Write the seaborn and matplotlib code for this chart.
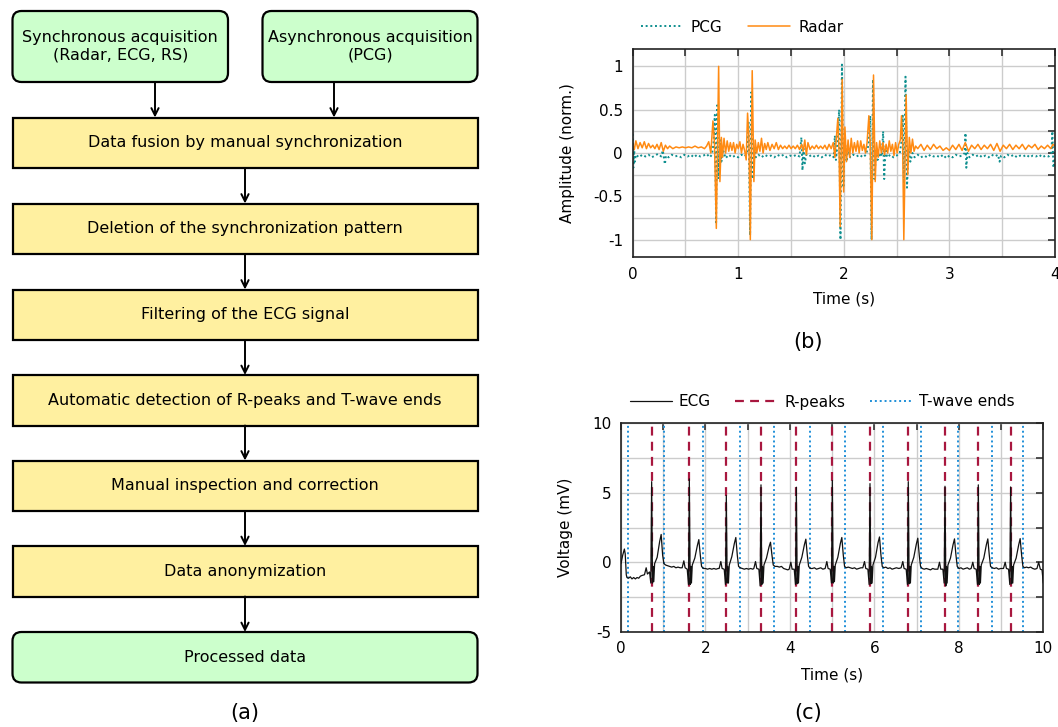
import numpy as np
import pandas as pd
import matplotlib
matplotlib.use("Agg")
import matplotlib.pyplot as plt
import seaborn as sns
from matplotlib.patches import FancyBboxPatch, Rectangle
from matplotlib.lines import Line2D
from matplotlib.ticker import MultipleLocator

# ---------------- data ----------------
top_boxes = ["Synchronous acquisition\n(Radar, ECG, RS)", "Asynchronous acquisition\n(PCG)"]
step_boxes = [
    "Data fusion by manual synchronization",
    "Deletion of the synchronization pattern",
    "Filtering of the ECG signal",
    "Automatic detection of R-peaks and T-wave ends",
    "Manual inspection and correction",
    "Data anonymization",
]
final_box = "Processed data"

radar_t = [0.00, 0.015, 0.03, 0.05, 0.07, 0.09, 0.11, 0.13, 0.15, 0.17, 0.19, 0.21, 0.23, 0.25, 0.27, 0.29,
           0.31, 0.33, 0.35, 0.38, 0.41, 0.44, 0.47, 0.50, 0.53, 0.56, 0.59, 0.62, 0.65, 0.68, 0.70, 0.72,
           0.74, 0.76, 0.775, 0.792, 0.814, 0.826, 0.84, 0.85, 0.865, 0.88, 0.895, 0.91, 0.925, 0.94, 0.955,
           0.97, 0.985, 1.00, 1.015, 1.03, 1.045, 1.06, 1.075, 1.088, 1.10, 1.114, 1.132, 1.148, 1.16, 1.175,
           1.19, 1.205, 1.22, 1.235, 1.25, 1.265, 1.28, 1.30, 1.32, 1.34, 1.36, 1.38, 1.40, 1.42, 1.44, 1.46,
           1.48, 1.50, 1.52, 1.54, 1.56, 1.58, 1.60, 1.615, 1.63, 1.645, 1.66, 1.68, 1.70, 1.72, 1.74, 1.76,
           1.78, 1.80, 1.82, 1.84, 1.86, 1.88, 1.90, 1.915, 1.93, 1.943, 1.955, 1.965, 1.984, 1.998, 2.01,
           2.025, 2.04, 2.055, 2.07, 2.085, 2.10, 2.115, 2.13, 2.145, 2.16, 2.175, 2.19, 2.205, 2.22, 2.237,
           2.25, 2.265, 2.281, 2.297, 2.31, 2.325, 2.34, 2.355, 2.37, 2.385, 2.40, 2.415, 2.43, 2.445, 2.46,
           2.475, 2.49, 2.505, 2.52, 2.535, 2.546, 2.557, 2.568, 2.59, 2.605, 2.62, 2.635, 2.65, 2.665, 2.68,
           2.70, 2.73, 2.76, 2.79, 2.82, 2.85, 2.88, 2.91, 2.94, 2.97, 3.00, 3.03, 3.06, 3.09, 3.12, 3.15,
           3.18, 3.21, 3.24, 3.27, 3.30, 3.33, 3.36, 3.39, 3.42, 3.45, 3.48, 3.51, 3.54, 3.57, 3.60, 3.63,
           3.66, 3.69, 3.72, 3.75, 3.78, 3.81, 3.84, 3.87, 3.90, 3.93, 3.96, 3.98, 4.00]
radar_v = [0.10, 0.04, 0.14, 0.05, 0.12, 0.06, 0.13, 0.05, 0.11, 0.06, 0.09, 0.05, 0.10, 0.04, 0.12, 0.02,
           0.09, 0.05, 0.08, 0.05, 0.07, 0.06, 0.07, 0.06, 0.07, 0.06, 0.08, 0.06, 0.07, 0.05, 0.08, 0.13,
           0.00, 0.37, 0.10, -0.87, 1.00, -0.33, 0.18, -0.05, 0.17, 0.00, 0.14, 0.02, 0.12, 0.03, 0.12,
           0.00, 0.10, 0.05, 0.13, 0.00, 0.10, 0.03, -0.08, 0.46, 0.20, -1.00, 0.95, -0.33, 0.15, 0.00,
           0.12, 0.02, 0.17, 0.00, 0.11, 0.04, 0.12, 0.03, 0.10, 0.05, 0.12, 0.04, 0.09, 0.05, 0.08, 0.05,
           0.09, 0.05, 0.08, 0.05, 0.09, 0.04, 0.10, 0.02, 0.15, -0.02, 0.12, 0.04, 0.08, 0.05, 0.09, 0.05,
           0.08, 0.05, 0.09, 0.04, 0.10, 0.05, 0.12, -0.05, 0.20, 0.40, 0.00, -0.85, 0.85, -0.45, 0.30,
           -0.10, 0.15, -0.05, 0.17, 0.00, 0.12, 0.02, 0.14, 0.00, 0.14, 0.03, 0.10, 0.00, 0.12, 0.43,
           0.10, -1.00, 0.90, -0.33, 0.12, -0.05, 0.14, 0.00, 0.12, -0.02, 0.10, 0.00, 0.14, 0.02, 0.10,
           -0.03, 0.12, 0.00, 0.10, 0.15, 0.43, 0.10, -1.00, 0.67, -0.25, 0.18, 0.00, 0.16, 0.02, 0.08,
           0.05, 0.10, 0.03, 0.09, 0.04, 0.10, 0.05, 0.08, 0.03, 0.06, 0.03, 0.09, 0.04, 0.10, 0.03, 0.12,
           0.02, 0.09, 0.05, 0.10, 0.04, 0.09, 0.05, 0.10, 0.03, 0.11, 0.02, 0.09, 0.05, 0.10, 0.04, 0.09,
           0.05, 0.10, 0.04, 0.09, 0.06, 0.10, 0.04, 0.08, 0.05, 0.09, 0.05, 0.10, 0.08]

pcg_t = [0.000, 0.006, 0.012, 0.02, 0.03, 0.06, 0.09, 0.12, 0.15, 0.18, 0.21, 0.24, 0.27, 0.285, 0.295,
         0.305, 0.315, 0.34, 0.37, 0.40, 0.43, 0.46, 0.49, 0.52, 0.55, 0.58, 0.61, 0.64, 0.67, 0.70, 0.73,
         0.75, 0.765, 0.778, 0.79, 0.80, 0.812, 0.825, 0.84, 0.86, 0.88, 0.91, 0.94, 0.97, 1.00, 1.03,
         1.06, 1.085, 1.098, 1.112, 1.124, 1.137, 1.15, 1.165, 1.19, 1.22, 1.25, 1.28, 1.31, 1.34, 1.37,
         1.40, 1.43, 1.46, 1.49, 1.52, 1.55, 1.58, 1.598, 1.608, 1.618, 1.63, 1.645, 1.67, 1.70, 1.73,
         1.76, 1.79, 1.82, 1.85, 1.88, 1.905, 1.915, 1.925, 1.94, 1.955, 1.968, 1.982, 1.995, 2.01, 2.025,
         2.04, 2.06, 2.09, 2.12, 2.15, 2.18, 2.21, 2.235, 2.25, 2.262, 2.276, 2.29, 2.305, 2.32, 2.34,
         2.36, 2.372, 2.382, 2.395, 2.41, 2.44, 2.47, 2.50, 2.53, 2.548, 2.558, 2.57, 2.584, 2.598, 2.612,
         2.63, 2.65, 2.67, 2.70, 2.73, 2.76, 2.79, 2.82, 2.85, 2.88, 2.91, 2.94, 2.97, 3.00, 3.03, 3.06,
         3.09, 3.12, 3.145, 3.152, 3.16, 3.17, 3.19, 3.22, 3.25, 3.28, 3.31, 3.34, 3.37, 3.40, 3.43, 3.46,
         3.475, 3.49, 3.52, 3.55, 3.58, 3.61, 3.64, 3.67, 3.70, 3.73, 3.76, 3.79, 3.82, 3.85, 3.88, 3.91,
         3.94, 3.965, 3.975, 3.985, 4.00]
pcg_v = [0.22, -0.17, 0.08, -0.10, -0.02, -0.05, -0.02, -0.04, -0.02, -0.05, -0.03, -0.01, -0.04, 0.03, -0.05,
         -0.13, -0.03, -0.05, -0.02, -0.04, -0.03, -0.05, -0.02, -0.04, -0.02, -0.05, -0.02, -0.04, -0.03, -0.01, -0.05,
         -0.02, 0.10, 0.44, -0.80, 0.55, -0.30, 0.15, -0.10, 0.02, -0.06, -0.02, -0.05, -0.03, -0.05, -0.02,
         -0.04, 0.00, 0.35, -0.95, 0.70, -0.30, 0.08, -0.05, -0.02, -0.05, -0.02, -0.04, -0.03, -0.05, -0.02,
         -0.04, -0.02, -0.05, -0.03, -0.04, -0.02, -0.04, 0.18, -0.20, 0.05, -0.12, -0.02, -0.04, -0.02, -0.05,
         -0.03, -0.05, -0.02, -0.04, -0.02, -0.05, 0.20, -0.08, 0.10, 0.50, -1.00, 1.02, -0.40, 0.15, -0.10,
         0.05, -0.05, -0.02, -0.04, -0.02, -0.05, -0.02, 0.10, 0.43, -1.00, 0.85, -0.30, 0.05, -0.08, 0.00,
         -0.04, 0.25, -0.30, 0.05, -0.05, -0.02, -0.05, -0.03, 0.00, 0.15, 0.43, -0.35, 0.88, -0.40, 0.05,
         -0.10, 0.00, -0.05, -0.02, -0.05, -0.03, -0.05, -0.02, -0.04, -0.03, -0.05, -0.02, -0.06, -0.03, -0.05, -0.02,
         -0.04, -0.03, 0.00, 0.23, -0.17, 0.00, -0.05, -0.02, -0.04, -0.02, -0.05, -0.03, -0.05, -0.02, -0.04, -0.02,
         -0.10, -0.03, -0.05, -0.02, -0.04, -0.02, -0.05, -0.03, -0.04, -0.02, -0.05, -0.03, -0.04, -0.02, -0.05, -0.03,
         -0.04, 0.00, 0.25, -0.17, -0.05]

ecg_t = [0.00, 0.04, 0.08, 0.10, 0.125, 0.14, 0.18, 0.22, 0.26, 0.30, 0.34, 0.38, 0.42, 0.46, 0.50,
         0.556, 0.596, 0.626, 0.676, 0.706, 0.726, 0.746, 0.761, 0.776, 0.796, 0.856, 0.916, 0.951, 0.986, 1.016, 1.056,
         1.10, 1.15, 1.20, 1.25, 1.30, 1.35, 1.40,
         1.448, 1.488, 1.518, 1.568, 1.598, 1.618, 1.638, 1.653, 1.668, 1.688, 1.748, 1.808, 1.843, 1.878, 1.908, 1.948,
         2.00, 2.05, 2.10, 2.15, 2.20, 2.25, 2.30,
         2.324, 2.364, 2.394, 2.444, 2.474, 2.494, 2.514, 2.529, 2.544, 2.564, 2.624, 2.684, 2.719, 2.754, 2.784, 2.824,
         2.87, 2.92, 2.97, 3.02, 3.07, 3.12,
         3.145, 3.185, 3.215, 3.265, 3.295, 3.315, 3.335, 3.35, 3.365, 3.385, 3.445, 3.505, 3.54, 3.575, 3.605, 3.645,
         3.70, 3.75, 3.80, 3.85, 3.90, 3.95,
         3.982, 4.022, 4.052, 4.102, 4.132, 4.152, 4.172, 4.187, 4.202, 4.222, 4.282, 4.342, 4.377, 4.412, 4.442, 4.482,
         4.53, 4.58, 4.63, 4.68, 4.73, 4.78,
         4.834, 4.874, 4.904, 4.954, 4.984, 5.004, 5.024, 5.039, 5.054, 5.074, 5.134, 5.194, 5.229, 5.264, 5.294, 5.334,
         5.38, 5.43, 5.48, 5.53, 5.58, 5.63, 5.68,
         5.726, 5.766, 5.796, 5.846, 5.876, 5.896, 5.916, 5.931, 5.946, 5.966, 6.026, 6.086, 6.121, 6.156, 6.186, 6.226,
         6.27, 6.32, 6.37, 6.42, 6.47, 6.52, 6.58,
         6.633, 6.673, 6.703, 6.753, 6.783, 6.803, 6.823, 6.838, 6.853, 6.873, 6.933, 6.993, 7.028, 7.063, 7.093, 7.133,
         7.18, 7.23, 7.28, 7.33, 7.38, 7.43,
         7.502, 7.542, 7.572, 7.622, 7.652, 7.672, 7.692, 7.707, 7.722, 7.742, 7.802, 7.862, 7.897, 7.932, 7.962, 8.002,
         8.05, 8.10, 8.15, 8.20, 8.25,
         8.291, 8.331, 8.361, 8.411, 8.441, 8.461, 8.481, 8.496, 8.511, 8.531, 8.591, 8.651, 8.686, 8.721, 8.751, 8.791,
         8.84, 8.89, 8.94, 8.99,
         9.057, 9.097, 9.127, 9.177, 9.207, 9.227, 9.247, 9.262, 9.277, 9.297, 9.357, 9.417, 9.452, 9.487, 9.517, 9.557,
         9.60, 9.65, 9.70, 9.75, 9.80, 9.85, 9.89, 9.93, 9.97, 10.00]
ecg_v = [-0.10, 0.50, 0.95, 0.60, -0.90, -1.10, -1.15, -1.05, -1.20, -1.10, -1.20, -1.10, -1.15, -1.00, -0.95,
         -0.90, -0.40, -0.85, -0.70, -1.50, 5.80, -1.50, -0.30, -1.40, -0.10, 0.35, 1.50, 2.00, 0.50, -0.10, -0.20,
         -0.25, -0.30, -0.35, -0.30, -0.40, -0.35, -0.40,
         -0.40, 0.10, -0.40, -0.50, -1.60, 6.00, -1.60, -0.30, -1.50, -0.20, 0.30, 1.20, 1.63, 0.50, -0.30, -0.45,
         -0.45, -0.50, -0.45, -0.50, -0.45, -0.50, -0.45,
         -0.45, 0.05, -0.45, -0.50, -1.60, 4.80, -1.50, -0.30, -1.50, -0.20, 0.40, 1.35, 1.78, 0.50, -0.30, -0.40,
         -0.45, -0.50, -0.45, -0.50, -0.45, -0.50,
         -0.45, 0.05, -0.45, -0.50, -1.70, 5.57, -1.60, -0.30, -1.50, -0.20, 0.30, 1.10, 1.44, 0.50, -0.20, -0.30,
         -0.30, -0.35, -0.30, -0.45, -0.50, -0.55,
         -0.50, 0.00, -0.50, -0.50, -1.60, 5.40, -1.55, -0.30, -1.50, -0.20, 0.35, 1.25, 1.66, 0.50, -0.30, -0.45,
         -0.45, -0.40, -0.50, -0.45, -0.40, -0.50,
         -0.45, 0.05, -0.45, -0.50, -1.50, 5.88, -1.50, -0.30, -1.40, -0.20, 0.35, 1.35, 1.78, 0.50, -0.30, -0.40,
         -0.35, -0.40, -0.45, -0.40, -0.50, -0.45, -0.40,
         -0.40, 0.05, -0.45, -0.50, -1.60, 5.66, -1.55, -0.30, -1.50, -0.20, 0.35, 1.40, 1.82, 0.50, -0.30, -0.40,
         -0.35, -0.45, -0.40, -0.50, -0.45, -0.40, -0.45,
         -0.40, 0.05, -0.45, -0.50, -1.60, 5.80, -1.55, -0.30, -1.50, -0.20, 0.35, 1.30, 1.73, 0.50, -0.30, -0.45,
         -0.50, -0.45, -0.50, -0.55, -0.45, -0.50,
         -0.50, 0.00, -0.50, -0.50, -1.50, 5.47, -1.70, -0.30, -1.50, -0.20, 0.30, 1.25, 1.68, 0.50, -0.30, -0.45,
         -0.40, -0.50, -0.45, -0.40, -0.50,
         -0.45, 0.00, -0.45, -0.50, -1.60, 5.57, -1.60, -0.30, -1.50, -0.20, 0.30, 1.25, 1.68, 0.50, -0.30, -0.40,
         -0.45, -0.40, -0.50, -0.45,
         -0.45, 0.00, -0.45, -0.50, -1.60, 5.42, -1.55, -0.30, -1.50, -0.20, 0.30, 1.25, 1.70, 0.50, -0.30, -0.40,
         -0.35, -0.40, -0.35, -0.45, -0.50, -0.45, 0.00, -0.50, -0.55, -1.50]

r_peaks = [0.726, 1.618, 2.494, 3.315, 4.152, 5.004, 5.896, 6.803, 7.672, 8.461, 9.227]
t_ends = [0.166, 1.026, 1.95, 2.818, 3.615, 4.475, 5.312, 6.212, 7.103, 7.98, 8.777, 9.527]

# ---------------- style ----------------
sns.set_style("white")
plt.rcParams['font.family'] = ['DejaVu Sans']
plt.rcParams['axes.unicode_minus'] = False
plt.rcParams['text.color'] = 'black'
plt.rcParams['axes.labelcolor'] = 'black'
plt.rcParams['xtick.color'] = 'black'
plt.rcParams['ytick.color'] = 'black'
FS = 11
FS_BOX = 11.5

C_PCG = "#0f8f8f"
C_RADAR = "#ff8a12"
C_ECG = "#111111"
C_R = "#a8173f"
C_T = "#1f8fd8"
GRID = "#cccccc"

fig = plt.figure(figsize=(10.58, 7.27), dpi=100)
W, H = 1058, 727

# ---------------- flowchart (a) ----------------
axf = fig.add_axes([0, 0, 1, 1])
axf.set_xlim(0, W)
axf.set_ylim(H, 0)
axf.axis("off")

GREEN = "#ccffcc"
YELLOW = "#fff0a0"

top_geo = [(12.5, 228), (262.5, 477.5)]
for (x0, x1), label in zip(top_geo, top_boxes):
    axf.add_patch(FancyBboxPatch((x0, 11), x1 - x0, 71,
                                 boxstyle="round,pad=0,rounding_size=9",
                                 fc=GREEN, ec="black", lw=1.6))
    axf.text((x0 + x1) / 2, 46.5, label, ha="center", va="center",
             fontsize=FS_BOX, linespacing=1.2)

step_y = [(117.5, 168), (203.5, 254), (289.5, 340), (375, 425.5), (460.5, 511), (546, 596.5)]
for (y0, y1), label in zip(step_y, step_boxes):
    axf.add_patch(Rectangle((12.5, y0), 465, y1 - y0, fc=YELLOW, ec="black", lw=1.6))
    axf.text(245, (y0 + y1) / 2, label, ha="center", va="center", fontsize=FS_BOX)

axf.add_patch(FancyBboxPatch((12.5, 632), 465, 50.5,
                             boxstyle="round,pad=0,rounding_size=9",
                             fc=GREEN, ec="black", lw=1.6))
axf.text(245, 657, final_box, ha="center", va="center", fontsize=FS_BOX)

arrow_kw = dict(arrowstyle="->", lw=1.4, color="black", shrinkA=0, shrinkB=0, mutation_scale=13)
for x in (155, 334):
    axf.annotate("", xy=(x, 117.5), xytext=(x, 82), arrowprops=arrow_kw)
bounds = [168, 254, 340, 425.5, 511, 596.5]
tops = [203.5, 289.5, 375, 460.5, 546, 632]
for yb, yt in zip(bounds, tops):
    axf.annotate("", xy=(245, yt), xytext=(245, yb), arrowprops=arrow_kw)

axf.text(245, 713, "(a)", ha="center", va="center", fontsize=15)
axf.text(808, 342, "(b)", ha="center", va="center", fontsize=15)
axf.text(808, 713, "(c)", ha="center", va="center", fontsize=15)


def style_axes(ax):
    for s in ax.spines.values():
        s.set_visible(True)
        s.set_color("#222222")
        s.set_linewidth(1.2)
    ax.grid(True, which="both", color=GRID, lw=1.0)
    ax.set_axisbelow(True)
    ax.tick_params(which="both", direction="in", top=True, right=True,
                   length=5, width=1.2, color="#333333", labelsize=FS, pad=7,
                   labelcolor="black")
    ax.tick_params(which="minor", labelleft=False, labelbottom=False)


# ---------------- (b) radar / PCG ----------------
axb = fig.add_axes([632.7 / W, 1 - 257 / H, 422.3 / W, 208 / H])
df_pcg = pd.DataFrame({"t": pcg_t, "v": pcg_v})
df_rad = pd.DataFrame({"t": radar_t, "v": radar_v})
sns.lineplot(data=df_pcg, x="t", y="v", ax=axb, color=C_PCG, lw=1.4,
             linestyle=(0, (1, 1.4)), estimator=None, sort=False)
sns.lineplot(data=df_rad, x="t", y="v", ax=axb, color=C_RADAR, lw=1.1,
             estimator=None, sort=False)
axb.set_xlim(0, 4)
axb.set_ylim(-1.2, 1.2)
axb.xaxis.set_major_locator(MultipleLocator(1))
axb.xaxis.set_minor_locator(MultipleLocator(0.5))
axb.yaxis.set_major_locator(MultipleLocator(0.5))
axb.yaxis.set_minor_locator(MultipleLocator(0.25))
axb.set_yticks([-1, -0.5, 0, 0.5, 1])
axb.set_yticklabels(["-1", "-0.5", "0", "0.5", "1"])
style_axes(axb)
axb.set_xlabel("Time (s)", fontsize=FS)
axb.set_ylabel("Amplitude (norm.)", fontsize=FS)
axb.yaxis.set_label_coords(-0.137, 0.5)
axb.xaxis.set_label_coords(0.5, -0.168)
hb = [Line2D([], [], color=C_PCG, lw=1.4, linestyle=(0, (1, 1.4))),
      Line2D([], [], color=C_RADAR, lw=1.1)]
fig.legend(hb, ["PCG", "Radar"], loc="center left", bbox_to_anchor=(641 / W, 1 - 27 / H),
           ncol=2, frameon=False, fontsize=FS, borderpad=0, borderaxespad=0,
           handlelength=2.75, handletextpad=0.5, columnspacing=1.7)

# ---------------- (c) ECG ----------------
axc = fig.add_axes([621 / W, 1 - 631.7 / H, 422.3 / W, 208.4 / H])
df_ecg = pd.DataFrame({"t": ecg_t, "v": ecg_v})
for x in t_ends:
    axc.axvline(x, color=C_T, lw=1.4, linestyle=(0, (1, 1.5)))
for x in r_peaks:
    axc.axvline(x, color=C_R, lw=1.6, linestyle=(0, (4, 2.8)))
sns.lineplot(data=df_ecg, x="t", y="v", ax=axc, color=C_ECG, lw=0.9,
             estimator=None, sort=False, zorder=3)
axc.set_xlim(0, 10)
axc.set_ylim(-5, 10)
axc.xaxis.set_major_locator(MultipleLocator(2))
axc.xaxis.set_minor_locator(MultipleLocator(1))
axc.yaxis.set_major_locator(MultipleLocator(5))
axc.yaxis.set_minor_locator(MultipleLocator(2.5))
style_axes(axc)
axc.set_xlabel("Time (s)", fontsize=FS)
axc.set_ylabel("Voltage (mV)", fontsize=FS)
axc.yaxis.set_label_coords(-0.114, 0.5)
axc.xaxis.set_label_coords(0.5, -0.174)
hc = [Line2D([], [], color=C_ECG, lw=0.9),
      Line2D([], [], color=C_R, lw=1.6, linestyle=(0, (4, 2.8))),
      Line2D([], [], color=C_T, lw=1.4, linestyle=(0, (1, 1.5)))]
fig.legend(hc, ["ECG", "R-peaks", "T-wave ends"], loc="center left",
           bbox_to_anchor=(630 / W, 1 - 402 / H), ncol=3, frameon=False, fontsize=FS,
           borderpad=0, borderaxespad=0, handlelength=2.75, handletextpad=0.45,
           columnspacing=1.6)

fig.savefig("out.png", dpi=100)
